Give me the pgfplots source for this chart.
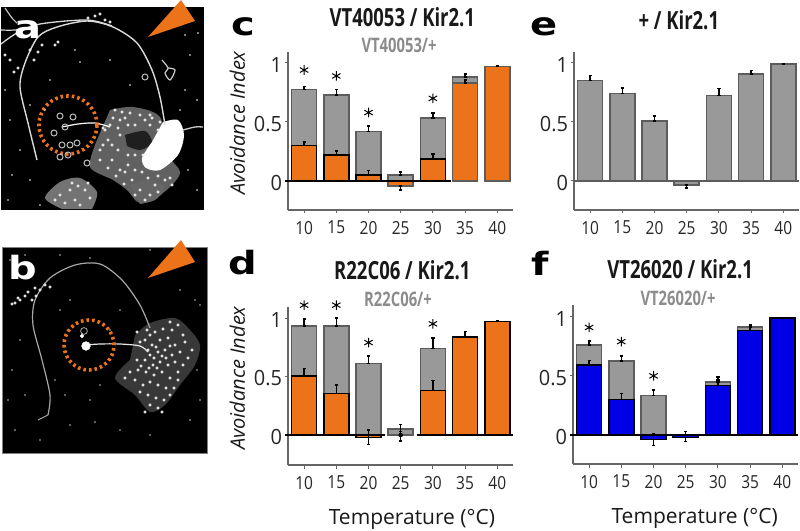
\documentclass[border=0pt]{standalone}
\usepackage{fontspec}
\usepackage{pgfplots}
\pgfplotsset{compat=1.18}
\setmainfont{Open Sans}
\newfontfamily\tickf[FakeStretch=0.86]{Open Sans}
\newfontfamily\ytickf[FakeStretch=0.95]{Open Sans}
\newfontfamily\titlef[FakeStretch=0.74]{Open Sans}
\newfontfamily\letterf[FakeStretch=1.25]{DejaVu Sans}
\definecolor{orng}{HTML}{EC7319}
\definecolor{blu}{HTML}{0000E6}
\definecolor{gbar}{HTML}{999999}
\definecolor{gedge}{HTML}{5C5C5C}
\definecolor{gaxis}{HTML}{666666}
\definecolor{gsub}{HTML}{8C8C8C}

\pgfplotsset{
  panel/.style={
    scale only axis, width=225.4pt, height=158pt,
    xmin=-0.5, xmax=6.5, ymin=-0.246, ymax=1.093,
    axis x line=bottom, axis y line=left,
    axis line style={-, gaxis, line width=1.3pt},
    tick style={gaxis, line width=1pt}, tick align=outside, major tick length=3.5pt,
    xtick={0,...,6}, xticklabels={10,15,20,25,30,35,40},
    ytick={0,0.5,1}, yticklabels={0,0.5,1},
    xticklabel style={font=\tickf\fontsize{18}{20}\selectfont, text=black!85, yshift=-4pt},
    yticklabel style={font=\ytickf\fontsize{21}{23}\selectfont, text=black!85, yshift=-2pt, xshift=1pt},
    clip=false,
    title style={font=\titlef\bfseries\fontsize{25}{27}\selectfont, text=black!90, anchor=center},
    ylabel style={font=\itshape\fontsize{20}{22}\selectfont, text=black!90},
    xlabel style={font=\fontsize{21}{23}\selectfont, text=black!90},
  },
  errs/.style={
    error bars/y dir=both, error bars/y explicit,
    error bars/error bar style={black, line width=1.4pt},
    error bars/error mark options={black, line width=1.6pt, mark size=1.6pt, rotate=90},
  },
  bars/.style={ybar, bar shift=0pt, bar width=25pt, line width=1.6pt, errs},
  graybar/.style={bars, fill=gbar, draw=gedge},
  stars/.style={only marks, mark=asterisk, mark size=4.8pt, mark options={black, line width=1pt}},
}
\newcommand{\sub}[1]{{\titlef\bfseries\fontsize{20}{22}\selectfont\textcolor{gsub}{#1}}}
\newcommand{\lett}[1]{{\letterf\bfseries\fontsize{32}{32}\selectfont #1}}

\begin{document}
\begin{tikzpicture}[x=1pt,y=1pt]
\useasboundingbox (0,0) rectangle (800pt,530pt);

% photographs, panel letters and free labels, in pixels of the reference
\begin{axis}[at={(0,0)}, anchor=south west, scale only axis, width=800pt, height=530pt,
  xmin=0, xmax=800, ymin=0, ymax=530, y dir=reverse, hide axis, clip=true]
% --- panel a
\addplot[fill=black, draw=none] coordinates {(1,7) (204,7) (204,210) (1,210)} --cycle;
\addplot[fill=black!62, draw=none, smooth] coordinates {(110,110) (133,107) (160,117) (167,153) (180,173) (163,193) (140,203) (127,190) (113,180) (90,167) (97,140)} --cycle;
\addplot[fill=black!55, draw=none, smooth] coordinates {(62,209) (45,198) (60,182) (80,178) (97,192) (92,209)} --cycle;
\addplot[fill=black!60, draw=none, smooth] coordinates {(130,185) (150,180) (165,188) (155,200) (140,204)} --cycle;
\addplot[fill=black!88, draw=none, smooth] coordinates {(125,135) (145,131) (152,143) (140,150) (127,146)} --cycle;
\addplot[fill=white, draw=none, smooth] coordinates {(163,122) (178,120) (184,135) (178,155) (160,170) (146,168) (142,158) (152,142)} --cycle;
\addplot[white!85!black, line width=1.4pt, smooth] coordinates {(37,160) (28,123) (20,87) (25,63) (38,37) (57,27) (87,21) (113,27) (137,43) (152,70) (160,97) (165,125)};
\addplot[white!85!black, line width=1.3pt, smooth] coordinates {(1,44) (17,33) (40,24) (87,20) (112,26)};
\addplot[white!80!black, line width=1.1pt, smooth] coordinates {(5,8) (12,18) (17,23)};
\addplot[white!85!black, line width=1.2pt, smooth] coordinates {(1,30) (15,30) (30,27)};
\addplot[white!80!black, line width=1.3pt, smooth] coordinates {(183,130) (195,127) (203,127)};
\addplot[white, line width=1.2pt, smooth] coordinates {(62,127) (78,124) (95,123) (110,127)};
\addplot[white!80!black, line width=1.2pt, smooth] coordinates {(162,60) (168,68) (165,73) (170,80) (175,70) (168,68)};
\addplot[only marks, mark=o, mark size=3pt, mark options={white!75!black, line width=1pt}] coordinates {(60,116) (73,117) (65,127) (54,133) (62,145) (70,145) (77,143) (60,157) (68,155) (87,163) (145,77)};
\addplot[only marks, mark=*, mark size=1.3pt, mark options={white!92!black, draw=none}] coordinates {
(5,55) (10,60) (18,68) (14,72) (30,50) (34,60) (42,45) (38,52) (55,45) (58,42) (105,20) (95,16) (100,14) (110,22) (88,18)
(115,110) (120,120) (125,118) (135,125) (150,115) (158,130) (112,160) (100,150) (120,170) (113,118) (122,112) (130,113) (140,115) (105,130) (110,125)
(132,180) (140,190) (155,185) (165,180) (150,195) (142,172) (128,165) (118,150) (108,140) (103,128) (125,172) (135,170) (148,178) (158,176) (170,178)
(100,160) (108,168) (116,176) (124,184) (135,195) (145,200) (158,192) (172,185) (103,145) (112,145) (120,135) (118,128) (128,125) (150,125) (145,120)
(60,195) (70,190) (75,200) (85,190) (72,183) (65,203) (80,205) (90,198) (55,200) (78,186) (88,183) (135,155) (143,155) (152,118) (160,122) (128,155)};
\addplot[only marks, mark=*, mark size=0.7pt, mark options={white!80!black, draw=none}] coordinates {
(80,62) (50,80) (185,35) (198,33) (190,55) (197,100) (185,90) (130,85) (40,205) (30,180) (12,175) (20,150) (10,120) (180,110) (188,170) (197,190) (8,200) (30,105) (45,110) (75,50) (110,60) (5,90)};
% --- panel b
\addplot[fill=black, draw=gray, line width=0.6pt] coordinates {(2,247) (207,247) (207,453) (2,453)} --cycle;
\addplot[fill=black!78, draw=none, smooth] coordinates {(135,335) (150,323) (175,318) (190,330) (200,345) (195,365) (180,385) (165,405) (150,412) (135,395) (115,378) (130,360)} --cycle;
\addplot[gray!70, line width=1.2pt, smooth] coordinates {(48,415) (50,395) (42,360) (33,325) (35,300) (50,278) (75,265) (100,264) (122,280) (140,305) (150,328)};
\addplot[gray!70, line width=1pt, smooth] coordinates {(48,415) (42,418) (38,420)};
\addplot[white!90!black, line width=1.2pt, smooth] coordinates {(85,345) (100,344) (120,344) (140,346) (148,352)};
\addplot[only marks, mark=*, mark size=4.4pt, mark options={white, draw=none}] coordinates {(86,346)};
\addplot[only marks, mark=o, mark size=3.4pt, mark options={gray!70, line width=0.8pt}] coordinates {(84,331)};
\addplot[only marks, mark=*, mark size=1.8pt, mark options={white, draw=none}] coordinates {(82,336)};
\addplot[only marks, mark=*, mark size=1.3pt, mark options={white!92!black, draw=none}] coordinates {
(150,335) (155,332) (163,329) (170,322) (178,325) (172,330) (183,335) (140,342) (147,330) (137,332) (145,340) (152,345) (160,340) (168,338) (175,345)
(185,342) (192,350) (150,355) (158,352) (165,350) (172,355) (180,352) (188,358) (145,360) (153,365) (160,362) (168,365) (175,362)
(156,347) (162,356) (148,350) (154,358) (170,346) (166,358) (157,368) (149,368) (141,366) (137,360)
(183,365) (178,372) (130,372) (138,370) (146,372) (154,375) (162,372) (170,378) (178,380) (135,380) (143,385) (150,382) (158,385) (166,388) (174,388)
(140,392) (148,395) (156,398) (164,400) (170,395) (150,405) (158,408) (162,412) (145,412) (125,378)
(45,285) (50,287) (40,290) (36,296) (32,300) (25,296) (20,300) (15,303) (28,292) (35,288) (12,304) (18,298)};
\addplot[only marks, mark=*, mark size=0.6pt, mark options={gray!80, draw=none}] coordinates {
(10,260) (25,255) (60,255) (90,258) (150,250) (195,300) (180,290) (120,310) (110,330) (20,340) (12,370) (25,395) (8,400) (15,430) (40,440) (70,425) (95,422) (120,430) (150,435) (190,420) (200,400) (197,370) (200,305) (60,310) (70,300) (55,380) (65,395) (90,400) (100,385)};
% orange arrowheads and dotted circles
\addplot[fill=orng, draw=none] coordinates {(148,37) (195,21) (181,0)} --cycle;
\addplot[fill=orng, draw=none] coordinates {(148,278) (195,262) (181,240)} --cycle;
\draw[orng, line width=3.6pt, dash pattern=on 2.6pt off 3pt] (axis cs:68,125) circle[radius=29pt];
\draw[orng, line width=3.6pt, dash pattern=on 2.6pt off 3pt] (axis cs:89,345) circle[radius=25pt];
% panel letters
\node[white] at (axis cs:28,30) {\lett{a}};
\node[white] at (axis cs:23,268) {\lett{b}};
\node at (axis cs:243,27) {\lett{c}};
\node at (axis cs:544,27) {\lett{e}};
\node at (axis cs:243,263) {\lett{d}};
\node at (axis cs:540,263) {\lett{f}};
% subtitles
\node at (axis cs:399,45) {\sub{VT40053/+}};
\node at (axis cs:398,299) {\sub{R22C06/+}};
\node at (axis cs:678,298) {\sub{VT26020/+}};
\end{axis}

% panel c
\begin{axis}[panel, at={(288pt,320pt)}, anchor=south west,
  title={VT40053 / Kir2.1}, title style={at={(axis description cs:0.507,1.18)}},
  ylabel={Avoidance Index}, ylabel style={at={(axis description cs:-0.225,0.55)}, anchor=center, rotate=0}]
\addplot[graybar] table[y error plus=ep, y error minus=em] {
x y ep em
0 0.775 0.025 0
1 0.73 0.045 0
2 0.42 0.045 0
3 0.05 0.025 0
4 0.535 0.04 0
5 0.88 0.025 0
6 0.97 0.005 0
};
\addplot[bars, fill=orng, draw=black] table[y error plus=ep, y error minus=em] {
x y ep em
0 0.30 0.03 0
1 0.22 0.035 0
2 0.05 0.04 0
4 0.185 0.045 0
};
\addplot[bars, fill=orng, draw=gedge] table[y error plus=ep, y error minus=em] {
x y ep em
5 0.83 0.025 0
6 0.97 0.005 0
};
\addplot[bars, fill=orng, draw=gedge] table[y error plus=ep, y error minus=em] {
x y ep em
3 -0.045 0 0.03
};
\addplot[black, line width=1.5pt] coordinates {(-0.6,0) (4.55,0)};
\addplot[stars] coordinates {(0,0.94) (1,0.89) (2,0.58) (4,0.70)};
\end{axis}

% panel e
\begin{axis}[panel, at={(574pt,320pt)}, anchor=south west,
  title={+ / Kir2.1}, title style={at={(axis description cs:0.465,1.165)}}]
\addplot[graybar] table[y error plus=ep, y error minus=em] {
x y ep em
0 0.853 0.042 0
1 0.74 0.05 0
2 0.51 0.04 0
3 -0.035 0 0.025
4 0.725 0.06 0
5 0.905 0.03 0
6 0.99 0.005 0
};
\addplot[gedge, line width=1.5pt] coordinates {(-0.5,0) (6.5,0)};
\end{axis}

% panel d
\begin{axis}[panel, at={(288pt,65pt)}, anchor=south west, ymin=-0.256, ymax=1.094,
  title={R22C06 / Kir2.1}, title style={at={(axis description cs:0.507,1.195)}},
  ylabel={Avoidance Index}, ylabel style={at={(axis description cs:-0.225,0.55)}, anchor=center},
  xlabel={Temperature (°C)}, xlabel style={at={(axis description cs:0.55,-0.345)}, anchor=center}]
\addplot[graybar] table[y error plus=ep, y error minus=em] {
x y ep em
0 0.93 0.06 0
1 0.93 0.07 0
2 0.61 0.065 0
3 0.05 0.04 0.04
4 0.74 0.09 0
};
\addplot[bars, fill=orng, draw=black] table[y error plus=ep, y error minus=em] {
x y ep em
0 0.505 0.065 0
1 0.355 0.07 0
2 -0.02 0.065 0.06
4 0.38 0.085 0
5 0.84 0.045 0
6 0.97 0.01 0
};
\addplot[only marks, mark=none, errs] table[y error plus=ep, y error minus=em] {
x y ep em
3 0 0.03 0.05
};
\addplot[black, line width=1.5pt] coordinates {(-0.6,0) (2.5,0)};
\addplot[black, line width=1.5pt] coordinates {(3.5,0) (6.5,0)};
\addplot[stars] coordinates {(0,1.11) (1,1.11) (2,0.79) (4,0.95)};
\end{axis}

% panel f
\begin{axis}[panel, at={(573pt,66pt)}, anchor=south west, height=159pt, ymin=-0.246, ymax=1.10,
  title={VT26020 / Kir2.1}, title style={at={(axis description cs:0.475,1.185)}},
  xlabel={Temperature (°C)}, xlabel style={at={(axis description cs:0.54,-0.34)}, anchor=center}]
\addplot[graybar] table[y error plus=ep, y error minus=em] {
x y ep em
0 0.763 0.034 0
1 0.625 0.045 0
2 0.333 0.047 0
3 0.0 0 0
4 0.45 0.04 0
5 0.915 0.02 0
6 0.99 0.005 0
};
\addplot[bars, fill=blu, draw=black] table[y error plus=ep, y error minus=em] {
x y ep em
0 0.593 0.037 0
1 0.30 0.05 0
2 -0.04 0.05 0.05
3 -0.02 0.05 0.035
4 0.42 0.045 0
5 0.885 0.04 0
6 0.99 0.005 0
};
\addplot[black, line width=1.5pt] coordinates {(-0.6,0) (6.5,0)};
\addplot[stars] coordinates {(0,0.91) (1,0.79) (2,0.50)};
\end{axis}
\end{tikzpicture}
\end{document}
